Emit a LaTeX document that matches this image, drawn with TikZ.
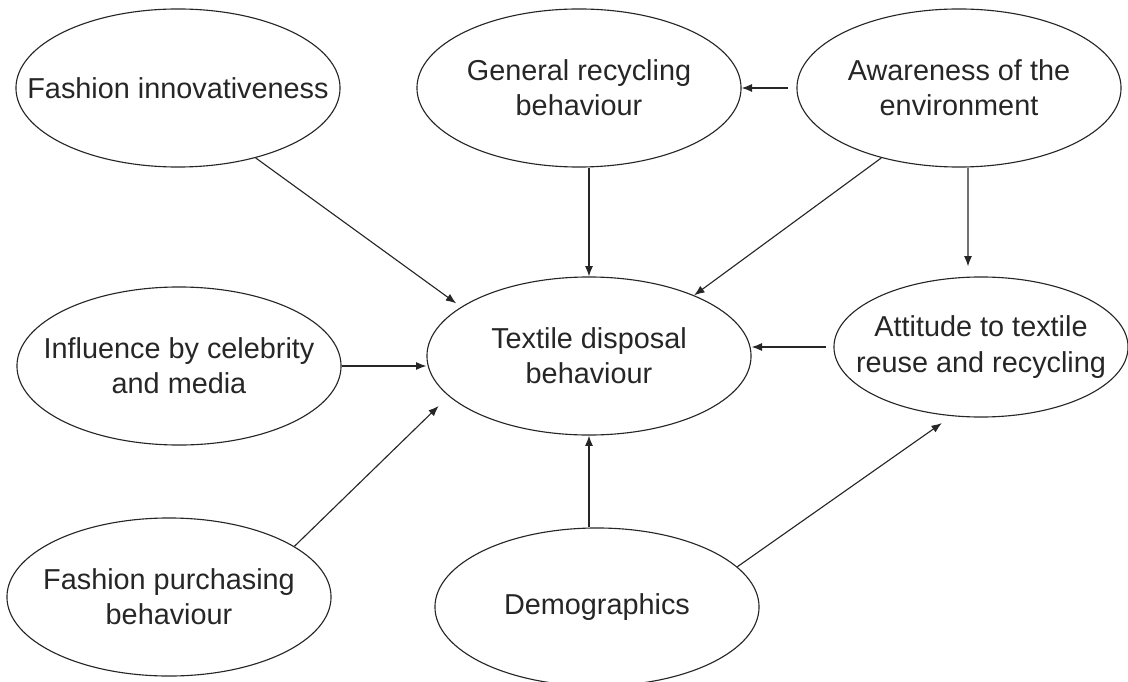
\documentclass[tikz,border=0pt]{standalone}
\usepackage{fontspec}
\setmainfont{Liberation Sans}
\usetikzlibrary{shapes.geometric,arrows.meta}

\begin{document}
\begin{tikzpicture}[x=0.025cm,y=-0.025cm,line width=0.8pt,
  oval/.style={draw=black!85,ellipse,minimum width=8.1cm,minimum height=3.95cm,inner sep=0pt},
  txt/.style={align=center,font=\fontsize{20.5}{25}\selectfont,text=black!85},
  arr/.style={draw=black!85,-{Latex[length=2.6mm,width=2mm]}}]
\useasboundingbox (0,0) rectangle (1128,682);
% ovals
\node[oval,label={[txt]center:Fashion innovativeness}] (fashinn) at (178,88) {};
\node[oval,label={[txt]center:General recycling\\behaviour}] (genrec) at (579,88) {};
\node[oval,label={[txt]center:Awareness of the\\environment}] (aware) at (959,88) {};
\node[oval,label={[txt]center:Influence by celebrity\\and media}] (influ) at (179,366) {};
\node[oval,label={[txt]center:Textile disposal\\behaviour}] (textile) at (589,356) {};
\node[oval,minimum width=7.35cm,minimum height=3.5cm,label={[txt]center:Attitude to textile\\reuse and recycling}] (attit) at (981,347) {};
\node[oval,label={[txt]center:Fashion purchasing\\behaviour}] (purch) at (169,597) {};
\node[oval,label={[txt]center:Demographics}] (demog) at (597,607) {};
% arrows
\draw[arr,shorten <=0.22cm] (aware.west) -- (genrec.east);
\draw[arr] (genrec.south -| textile.north) -- (textile.north);
\draw[arr] (aware.-138) -- (textile.30);
\draw[arr] ([xshift=0.225cm]aware.south) -- ([xshift=-0.325cm,yshift=0.25cm]attit.north);
\draw[arr,shorten <=0.18cm] (attit.west) -- (attit.west -| textile.east);
\draw[arr] (influ.east) -- (influ.east -| textile.west);
\draw[arr,shorten >=0.15cm] (fashinn.-42) -- (textile.159);
\draw[arr,shorten >=0.35cm] (purch.22) -- (textile.-164);
\draw[arr] (demog.north -| textile.south) -- (textile.south);
\draw[arr,shorten >=0.3cm] (demog.16) -- (attit.-113);
\end{tikzpicture}
\end{document}
